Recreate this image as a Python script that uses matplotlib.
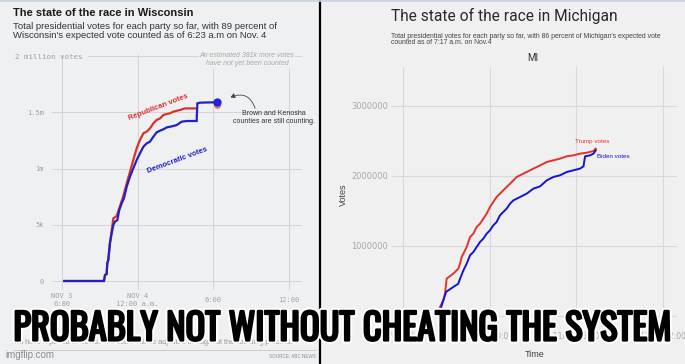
import matplotlib
matplotlib.use('Agg')
import matplotlib.pyplot as plt
from matplotlib.patches import Rectangle, FancyArrowPatch
from matplotlib.lines import Line2D
import matplotlib.patheffects as pe

# ---------------- data ----------------
# Wisconsin (hours since Nov 3 6:00 p.m.)
wi_dem_hours = [0.18, 3.33, 3.41, 3.54, 3.59, 3.67, 3.80, 3.94, 4.07, 4.20, 4.39, 4.54, 4.73, 4.91,
                5.13, 5.39, 5.65, 5.92, 6.18, 6.45, 6.71, 6.97, 7.24, 7.50, 7.77, 8.03, 8.30, 8.56,
                8.82, 9.09, 9.49, 9.88, 10.67, 10.73, 10.94, 11.99, 12.31]
wi_dem_votes = [0, 0, 53000, 62000, 157000, 187000, 335000, 424000, 498000, 528000, 542000, 631000,
                691000, 735000, 839000, 928000, 1002000, 1076000, 1135000, 1194000, 1224000, 1239000,
                1283000, 1322000, 1337000, 1349000, 1366000, 1372000, 1378000, 1387000, 1417000,
                1423000, 1423000, 1580000, 1586000, 1589000, 1595000]
wi_rep_hours = [0.18, 3.33, 3.41, 3.54, 3.59, 3.67, 3.80, 4.07, 4.33, 4.60, 4.86, 5.13, 5.39, 5.65,
                5.92, 6.18, 6.45, 6.71, 6.97, 7.24, 7.50, 7.77, 8.03, 8.30, 8.56, 8.82, 9.35, 9.75, 10.54]
wi_rep_votes = [0, 0, 53000, 62000, 157000, 187000, 335000, 557000, 578000, 667000, 756000, 868000,
                972000, 1076000, 1180000, 1254000, 1313000, 1328000, 1357000, 1402000, 1432000,
                1446000, 1476000, 1485000, 1491000, 1506000, 1521000, 1535000, 1535000]
wi_rep_last = (12.31, 1565000)
wi_yticks = [0, 500000, 1000000, 1500000]
wi_ylabels = ["0", "5k", "1m", "1.5m"]
wi_xticks = [0, 6, 12, 18]
wi_xlabels = ["NOV 3\n6:00", "NOV 4\n12:00 a.m.", "6:00", "12:00"]

# Michigan (hours since Nov 3 18:00)
mi_trump_hours = [2.33, 2.56, 2.79, 2.91, 3.02, 3.48, 3.83, 3.95, 4.06, 4.18, 4.41, 4.64, 4.87, 5.10,
                  5.33, 5.56, 5.79, 6.02, 6.25, 6.48, 6.71, 6.94, 7.17, 7.41, 7.64, 7.87, 8.10, 8.56,
                  9.02, 9.49, 9.95, 10.41, 10.87, 11.33, 11.79, 12.25, 12.72, 13.18, 13.34]
mi_trump_votes = [0, 129000, 224000, 319000, 533000, 605000, 676000, 748000, 843000, 890000, 986000,
                  1129000, 1176000, 1271000, 1319000, 1390000, 1462000, 1557000, 1629000, 1700000,
                  1748000, 1795000, 1843000, 1890000, 1938000, 1986000, 2010000, 2057000, 2105000,
                  2152000, 2200000, 2224000, 2248000, 2281000, 2295000, 2319000, 2333000, 2357000, 2390000]
mi_biden_hours = [2.33, 2.61, 2.79, 2.98, 3.14, 3.48, 3.83, 3.95, 4.18, 4.41, 4.64, 4.87, 5.10, 5.33,
                  5.56, 5.79, 6.02, 6.25, 6.48, 6.71, 6.94, 7.17, 7.41, 7.64, 8.10, 8.56, 9.02, 9.49,
                  9.95, 10.41, 10.87, 11.33, 11.79, 12.25, 12.49, 12.60, 12.95, 13.18, 13.34]
mi_biden_votes = [0, 105000, 224000, 343000, 367000, 414000, 462000, 533000, 652000, 748000, 867000,
                  914000, 986000, 1057000, 1105000, 1176000, 1224000, 1295000, 1343000, 1438000,
                  1486000, 1533000, 1605000, 1652000, 1700000, 1748000, 1819000, 1852000, 1938000,
                  1986000, 2010000, 2057000, 2081000, 2105000, 2138000, 2281000, 2295000, 2319000, 2367000]
mi_yticks = [0, 1000000, 2000000, 3000000]
mi_ylabels = ["0", "1000000", "2000000", "3000000"]
mi_xticks = [0, 6, 12, 18]
mi_xlabels = ["11/03 18:00", "11/04 00:00", "11/04 06:00", "11/04 12:00"]

caption = "PROBABLY NOT WITHOUT CHEATING THE SYSTEM"

# ---------------- layout helpers ----------------
W, H = 685, 364
fig = plt.figure(figsize=(W / 100, H / 100), dpi=100)


def fx(p):
    return p / W


def fy(p):
    return 1 - p / H


def axrect(l, t, r, b):
    return [l / W, 1 - b / H, (r - l) / W, (b - t) / H]


# panel backgrounds
fig.add_artist(Rectangle((0, 0), fx(319), 1, transform=fig.transFigure,
                         facecolor='#eff0f1', edgecolor='none', zorder=0))
fig.add_artist(Rectangle((fx(320), 0), 1 - fx(320), 1, transform=fig.transFigure,
                         facecolor='#f0f0f0', edgecolor='none', zorder=0))
fig.add_artist(Line2D([fx(319.5), fx(319.5)], [0, 1], transform=fig.transFigure,
                      color='black', lw=1.6, zorder=5))
fig.add_artist(Line2D([0, 1], [fy(0.7), fy(0.7)], transform=fig.transFigure,
                      color='#c9d3de', lw=1.2, zorder=5))

# ---------------- Wisconsin ----------------
ax1 = fig.add_axes(axrect(52, 55, 302, 290))
ax1.set_facecolor('none')
for s in ax1.spines.values():
    s.set_visible(False)
ax1.set_xlim(-0.79, 19.02)
ax1.set_ylim(-80000, 2010000)
ax1.set_yticks(wi_yticks)
ax1.set_yticklabels(wi_ylabels, family='DejaVu Sans Mono', fontsize=5, color='#a0a0a0')
ax1.set_xticks(wi_xticks)
ax1.set_xticklabels([])
ax1.tick_params(length=0, pad=6)
ax1.grid(True, color='#d4d4d4', lw=0.7)
ax1.set_axisbelow(True)
ax1.axhline(2000000, xmin=0.144, xmax=1, color='#d4d4d4', lw=0.7, zorder=0)

for t, lab in zip(wi_xticks, wi_xlabels):
    ax1.text(t, -0.0426, lab, transform=ax1.get_xaxis_transform(), ha='center', va='center',
             family='DejaVu Sans Mono', fontsize=5, color='#a0a0a0', linespacing=1.3)

ax1.plot(wi_rep_hours, wi_rep_votes, color='#d8322f', lw=1.6, solid_joinstyle='miter', zorder=3)
ax1.plot([wi_rep_last[0]], [wi_rep_last[1]], 'o', color='#e07a80', ms=4, zorder=3)
ax1.plot(wi_dem_hours, wi_dem_votes, color='#1f22c4', lw=1.6, solid_joinstyle='miter', zorder=4)
ax1.plot([wi_dem_hours[-1]], [wi_dem_votes[-1]], 'o', color='#1f22e0', ms=5, zorder=5)

fig.text(fx(15), fy(57), "2 million votes", family='DejaVu Sans Mono', fontsize=5.4,
         color='#a0a0a0', ha='left', va='center')
fig.text(fx(247), fy(59.5), "An estimated 381k more votes\nhave not yet been counted",
         family='Liberation Sans', style='italic', fontsize=5, color='#a8a8a8',
         ha='center', va='center', linespacing=1.1,
         bbox=dict(boxstyle='square,pad=0.15', facecolor='#eff0f1', edgecolor='none'))
fig.text(fx(158), fy(107), "Republican votes", family='Liberation Sans', weight='bold',
         fontsize=5.5, color='#d8322f', rotation=21, ha='center', va='center')
fig.text(fx(177), fy(160), "Democratic votes", family='Liberation Sans', weight='bold',
         fontsize=5.5, color='#1f22c4', rotation=20.5, ha='center', va='center')
fig.text(fx(274), fy(117.5), "Brown and Kenosha\ncounties are still counting.",
         family='Liberation Sans', fontsize=5, color='#333333', ha='center', va='center',
         linespacing=1.1)
fig.add_artist(FancyArrowPatch((fx(256), fy(111)), (fx(228), fy(98.5)),
                               transform=fig.transFigure, connectionstyle='arc3,rad=0.6',
                               arrowstyle='-|>,head_length=2.5,head_width=1.5',
                               color='#444444', lw=0.6))

fig.text(fx(13), fy(12.5), "The state of the race in Wisconsin", family='Liberation Sans',
         weight='bold', fontsize=8, color='#1a1a1a', ha='left', va='center')
fig.text(fx(13), fy(31), "Total presidential votes for each party so far, with 89 percent of\n"
         "Wisconsin's expected vote counted as of 6:23 a.m on Nov. 4",
         family='Liberation Sans', fontsize=6.8, color='#333333', ha='left', va='center',
         linespacing=1.0)

fig.text(fx(13), fy(342), "will have reported all votes. The count will be adjusted throughout the counting process.",
         family='Liberation Sans', fontsize=5.2, color='#9a9a9a', ha='left', va='center')
fig.add_artist(Line2D([fx(13), fx(316)], [fy(350), fy(350)], transform=fig.transFigure,
                      color='#c4c4c4', lw=0.6))
fig.text(fx(316), fy(356.5), "SOURCE: ABC NEWS", family='Liberation Sans', fontsize=3.3,
         color='#8a8a8a', ha='right', va='center')

# ---------------- Michigan ----------------
ax2 = fig.add_axes(axrect(392, 67, 677, 322))
ax2.set_facecolor('none')
for s in ax2.spines.values():
    s.set_visible(False)
ax2.set_xlim(-0.76, 18.96)
ax2.set_ylim(-86000, 3557000)
ax2.set_yticks(mi_yticks)
ax2.set_yticklabels(mi_ylabels, family='DejaVu Sans', fontsize=6, color='#a8a8a8')
ax2.set_xticks(mi_xticks)
ax2.set_xticklabels(mi_xlabels, family='DejaVu Sans', fontsize=5.5, color='#a8a8a8')
ax2.tick_params(axis='y', length=0, pad=3)
ax2.tick_params(axis='x', length=0, pad=7)
ax2.grid(True, color='#d9d9d9', lw=0.8)
ax2.set_axisbelow(True)
ax2.plot(mi_trump_hours, mi_trump_votes, color='#e8302a', lw=1.4, zorder=3)
ax2.plot(mi_biden_hours, mi_biden_votes, color='#1414d6', lw=1.4, zorder=4)
ax2.set_ylabel("Votes", family='Liberation Sans', fontsize=6.5, color='#444444', labelpad=2)
ax2.set_xlabel("Time", family='Liberation Sans', fontsize=6.5, color='#444444', labelpad=7)

fig.text(fx(592), fy(142), "Trump votes", family='Liberation Sans', fontsize=4.5,
         color='#e8302a', ha='center', va='center')
fig.text(fx(597), fy(156), "Biden votes", family='Liberation Sans', fontsize=4.5,
         color='#1414d6', ha='left', va='center')
fig.text(fx(533), fy(58), "MI", family='Roboto', fontsize=7, color='#333333',
         ha='center', va='center')
fig.text(fx(391), fy(15.5), "The state of the race in Michigan", family='Roboto',
         fontsize=11.2, color='#2a2a2a', ha='left', va='center')
fig.text(fx(391), fy(39.5), "Total presidential votes for each party so far, with 86 percent of "
         "Michigan's expected vote\ncounted as of 7:17 a.m. on Nov.4",
         family='Liberation Sans', fontsize=4.95, color='#444444', ha='left', va='center',
         linespacing=0.95)

# ---------------- meme caption ----------------
fig.text(fx(342), fy(329), caption,
         family=['Oswald', 'Open Sans Condensed', 'DejaVu Sans'], weight='bold', fontsize=26.3,
         color='black', ha='center', va='center', zorder=10,
         path_effects=[pe.Stroke(linewidth=4.5, foreground='white'),
                       pe.Stroke(linewidth=1.6, foreground='black'), pe.Normal()])
fig.text(fx(5), fy(355), "imgflip.com", family='Liberation Sans', fontsize=7,
         color='#8c8c8c', ha='left', va='center', zorder=10)

fig.savefig('out.png', dpi=100)
